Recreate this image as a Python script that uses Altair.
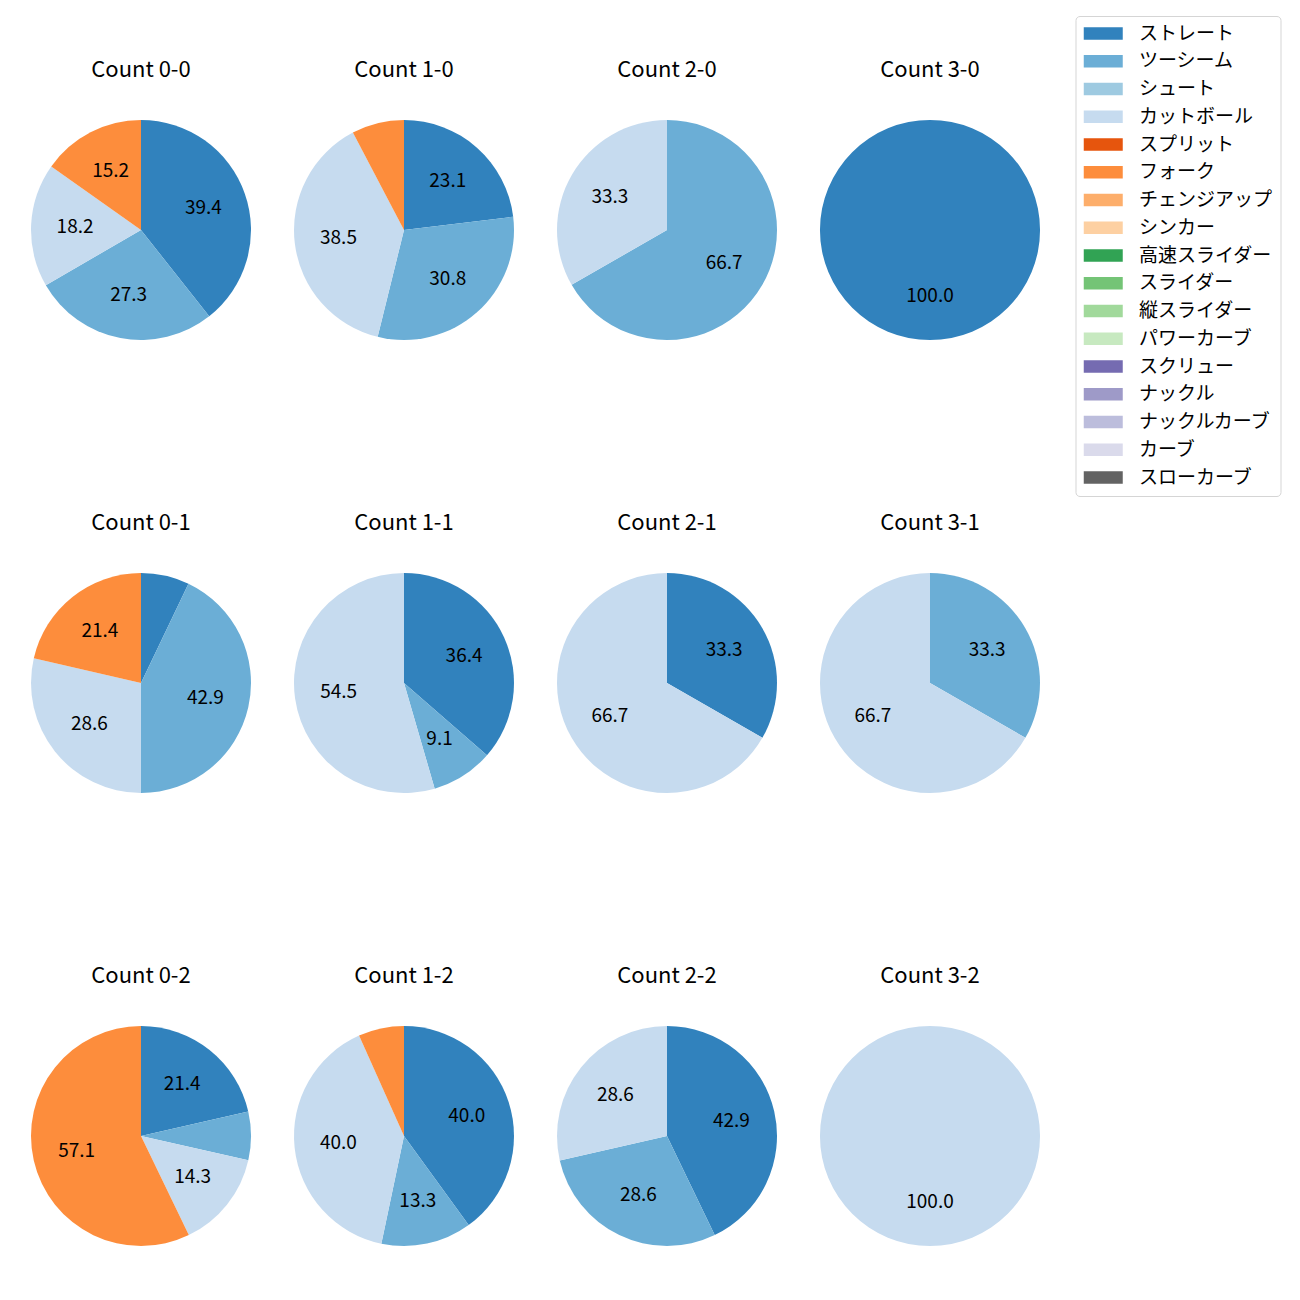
import altair as alt
import pandas as pd

pitch_types = ["ストレート", "ツーシーム", "シュート", "カットボール", "スプリット", "フォーク",
               "チェンジアップ", "シンカー", "高速スライダー", "スライダー", "縦スライダー",
               "パワーカーブ", "スクリュー", "ナックル", "ナックルカーブ", "カーブ", "スローカーブ"]
pitch_colors = ["#3182bd", "#6baed6", "#9ecae1", "#c6dbef", "#e6550d", "#fd8d3c",
                "#fdae6b", "#fdd0a2", "#31a354", "#74c476", "#a1d99b", "#c7e9c0",
                "#756bb1", "#9e9ac8", "#bcbddc", "#dadaeb", "#636363"]

count_labels = ["0-0", "1-0", "2-0", "3-0",
                "0-1", "1-1", "2-1", "3-1",
                "0-2", "1-2", "2-2", "3-2"]

slice_pitches = [
    ["ストレート", "ツーシーム", "カットボール", "フォーク"],
    ["ストレート", "ツーシーム", "カットボール", "フォーク"],
    ["ツーシーム", "カットボール"],
    ["ストレート"],
    ["ストレート", "ツーシーム", "カットボール", "フォーク"],
    ["ストレート", "ツーシーム", "カットボール"],
    ["ストレート", "カットボール"],
    ["ツーシーム", "カットボール"],
    ["ストレート", "ツーシーム", "カットボール", "フォーク"],
    ["ストレート", "ツーシーム", "カットボール", "フォーク"],
    ["ストレート", "ツーシーム", "カットボール"],
    ["カットボール"],
]
slice_values = [
    [39.4, 27.3, 18.2, 15.2],
    [23.1, 30.8, 38.5, 7.7],
    [66.7, 33.3],
    [100.0],
    [7.1, 42.9, 28.6, 21.4],
    [36.4, 9.1, 54.5],
    [33.3, 66.7],
    [33.3, 66.7],
    [21.4, 7.1, 14.3, 57.1],
    [40.0, 13.3, 40.0, 6.7],
    [42.9, 28.6, 28.6],
    [100.0],
]

FONT = "Noto Sans CJK JP"
rows = []
for c, ps, vs in zip(count_labels, slice_pitches, slice_values):
    for p, v in zip(ps, vs):
        rows.append({"count": c, "pitch": p, "pct": v, "idx": pitch_types.index(p)})
df = pd.DataFrame(rows)

color_scale = alt.Scale(domain=pitch_types, range=pitch_colors)
legend = alt.Legend(
    title=None, orient="none", legendX=1066, legendY=-104,
    symbolType="M-1.48,-1H4.76V1H-1.48Z", symbolSize=156.25, symbolStrokeWidth=0,
    symbolOpacity=1, labelFont=FONT, labelFontSize=19, labelColor="black",
    labelOffset=36.5, rowPadding=7.75, padding=8, strokeColor="#d5d5d5",
    cornerRadius=4, fillColor="white", labelLimit=300,
)

def cell(c):
    base = alt.Chart(df).transform_filter(alt.datum["count"] == c)
    arc = base.mark_arc(outerRadius=110, strokeWidth=0).encode(
        theta=alt.Theta("pct:Q", stack=True),
        color=alt.Color("pitch:N", scale=color_scale, legend=legend),
        order=alt.Order("idx:Q"),
    )
    txt = base.transform_calculate(
        label="datum.pct >= 8 ? format(datum.pct, '.1f') : ''"
    ).mark_text(
        radius=66, font=FONT, fontSize=19, color="black"
    ).encode(
        theta=alt.Theta("pct:Q", stack=True),
        text=alt.Text("label:N"),
        order=alt.Order("idx:Q"),
    )
    return alt.layer(arc, txt).properties(
        width=263, height=220,
        title=alt.TitleParams(f"Count {c}", font=FONT, fontSize=22,
                              fontWeight="normal", color="black", offset=38),
    )

grid_rows = [alt.hconcat(*[cell(c) for c in count_labels[i:i + 4]], spacing=0)
             for i in range(0, 12, 4)]
chart = alt.vconcat(*grid_rows, spacing=172).properties(
    padding={"left": 9.5, "top": 15, "right": 5, "bottom": 5}
).configure_view(stroke=None)

chart.save("out.html", embed_options={"renderer": "svg", "actions": False})
